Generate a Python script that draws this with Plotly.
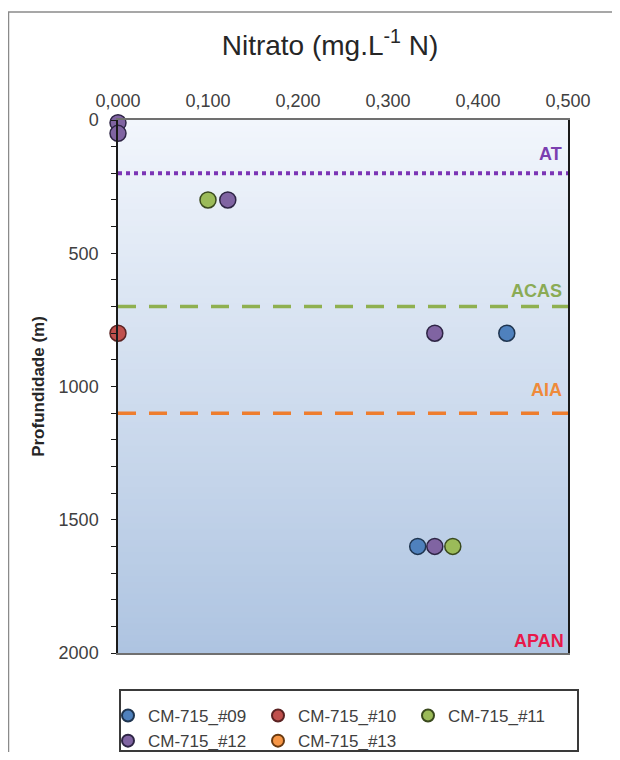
import plotly.graph_objects as go

# ---- data ----
series_names = ["CM-715_#09", "CM-715_#10", "CM-715_#11", "CM-715_#12", "CM-715_#13"]
nitrate = {
    "CM-715_#09": [0.432, 0.333],
    "CM-715_#10": [0.000],
    "CM-715_#11": [0.100, 0.372],
    "CM-715_#12": [0.000, 0.000, 0.122, 0.352, 0.352],
    "CM-715_#13": [None],
}
depth = {
    "CM-715_#09": [800, 1600],
    "CM-715_#10": [800],
    "CM-715_#11": [300, 1600],
    "CM-715_#12": [10, 50, 300, 800, 1600],
    "CM-715_#13": [None],
}
water_masses = ["AT", "ACAS", "AIA"]
water_mass_depths = [200, 700, 1100]
bottom_label = "APAN"
x_ticks = [0.0, 0.1, 0.2, 0.3, 0.4, 0.5]
y_ticks = [0, 500, 1000, 1500, 2000]

# ---- styles ----
fill_colors = {"CM-715_#09": "#4f81bd", "CM-715_#10": "#c0504d", "CM-715_#11": "#9bbb59",
               "CM-715_#12": "#8064a2", "CM-715_#13": "#f79646"}
edge_colors = {"CM-715_#09": "#1f3550", "CM-715_#10": "#5a2222", "CM-715_#11": "#3a4a1e",
               "CM-715_#12": "#2e2545", "CM-715_#13": "#6a3a10"}
line_styles = {"AT": ("#7b35b5", "dot", 4), "ACAS": ("#8fb050", "18px,13px", 3.5),
               "AIA": ("#ee7d2e", "18px,13px", 3.5)}
label_colors = {"AT": "#7a3fb0", "ACAS": "#8aab55", "AIA": "#ef8a3a", "APAN": "#e8194a"}
label_shift = {"AT": 19, "ACAS": 16, "AIA": 23, "APAN": 12}
FONT = "Liberation Sans, Arial, sans-serif"

# page body has an 8px margin: figure is sized/offset to compensate
OFF = 8
W, H = 612, 744
L, T = 110, 112
pw, ph = 450, 533
R = W - L - pw
B = H - T - ph


def px(xa):
    return (xa - OFF - L) / pw


def py(ya):
    return (H - B - (ya - OFF)) / ph


fig = go.Figure()

# background gradient
n = 90
top_rgb = (242, 246, 252)
bot_rgb = (174, 196, 225)
for i in range(n):
    t = (i + 0.5) / n
    c = tuple(int(round(top_rgb[k] + (bot_rgb[k] - top_rgb[k]) * t)) for k in range(3))
    fig.add_shape(type="rect", xref="paper", yref="paper", x0=0, x1=1,
                  y0=1 - i / n, y1=max(0, 1 - (i + 1.6) / n), fillcolor="rgb(%d,%d,%d)" % c,
                  line_width=0, layer="below")

# water mass lines
for name, d in zip(water_masses, water_mass_depths):
    col, dash, w = line_styles[name]
    fig.add_trace(go.Scatter(x=[x_ticks[0], x_ticks[-1]], y=[d, d], mode="lines",
                             line=dict(color=col, dash=dash, width=w),
                             showlegend=False, hoverinfo="skip"))
    fig.add_annotation(x=x_ticks[-1], y=d, text="<b>%s</b>" % name, showarrow=False,
                       xanchor="right", yanchor="middle", xshift=-4, yshift=label_shift[name],
                       font=dict(color=label_colors[name], size=18, family=FONT))
fig.add_annotation(x=x_ticks[-1], y=y_ticks[-1], text="<b>%s</b>" % bottom_label,
                   showarrow=False, xanchor="right", yanchor="middle", xshift=-2,
                   yshift=label_shift["APAN"],
                   font=dict(color=label_colors["APAN"], size=18, family=FONT))

for name in series_names:
    fig.add_trace(go.Scatter(x=nitrate[name], y=depth[name], mode="markers", name=name,
                             marker=dict(size=16, color=fill_colors[name],
                                         line=dict(color=edge_colors[name], width=1.5)),
                             cliponaxis=False))

# outer frame
fig.add_shape(type="rect", xref="paper", yref="paper", x0=px(8.5), x1=px(700), y0=py(12), y1=py(900),
              line=dict(color="#8a8a8a", width=1.5), fillcolor="rgba(0,0,0,0)", layer="above")
# legend frame
fig.add_shape(type="rect", xref="paper", yref="paper", x0=px(120), x1=px(578), y0=py(690), y1=py(751),
              line=dict(color="#3a3a3a", width=2), fillcolor="white", layer="below")

fig.update_layout(
    width=W, height=H, margin=dict(l=L, r=R, t=T, b=B, autoexpand=False),
    paper_bgcolor="white", plot_bgcolor="rgba(0,0,0,0)",
    separators=",.",
    font=dict(family=FONT, size=18, color="#404040"),
    title=dict(text="Nitrato (mg.L<sup>-1</sup> N)", x=px(330), xref="paper", xanchor="center",
               y=1 - (45 - OFF) / H, yanchor="middle", font=dict(size=28, color="#262626")),
    xaxis=dict(side="top", range=[x_ticks[0], x_ticks[-1]], tickvals=x_ticks, tickformat=".3f",
               showgrid=False, zeroline=False, showline=True, linecolor="#707070", linewidth=1.5,
               mirror=True, ticks="", ticklabelstandoff=4, tickfont=dict(size=18, color="#404040")),
    yaxis=dict(range=[y_ticks[-1], y_ticks[0]], tickvals=y_ticks, showgrid=False, zeroline=False,
               showline=True, linecolor="#1a1a1a", linewidth=1.5, mirror=True,
               ticks="outside", ticklen=5, tickcolor="#1a1a1a", ticklabelstandoff=9,
               minor=dict(dtick=100, ticks="outside", ticklen=5, tickcolor="#1a1a1a"),
               title=dict(text="<b>Profundidade (m)</b>", font=dict(size=17, color="#262626"), standoff=10),
               tickfont=dict(size=18, color="#404040")),
    legend=dict(orientation="h", x=px(108), xanchor="left", y=py(698), yanchor="top",
                entrywidth=105, entrywidthmode="pixels", itemwidth=30, itemsizing="constant",
                borderwidth=0, bgcolor="rgba(0,0,0,0)",
                font=dict(size=17, color="#404040")),
)

fig.write_html("out.html")
